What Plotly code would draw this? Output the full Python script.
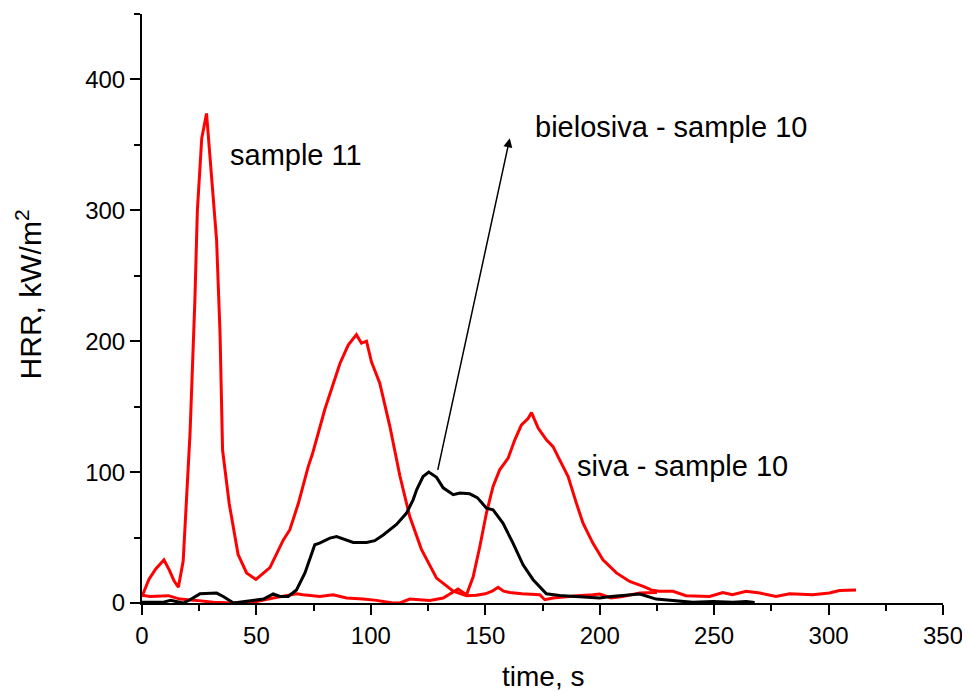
import plotly.graph_objects as go

# sample 11 (red)
s11_t = [0, 3, 6, 9.6, 12, 14, 15.9, 18, 21, 23.1, 24.2, 26.1, 28.2, 30, 32.6, 34.1, 35.2, 38.1, 42, 45.7,
         49.8, 55.9, 61.7, 64.6, 68.3, 72.6, 74.5, 79.9, 86.5, 90.1, 93.7, 95.9, 98.1, 100.3, 103.9, 108.3,
         112.7, 117, 122.1, 128.7, 136, 141.8, 146, 150, 153, 155.6, 158, 160.7, 166, 173.8, 176, 179.6,
         186, 190, 197, 200, 205, 210, 217.5, 222, 225]
s11_hrr = [5, 18, 26, 33, 25, 17, 12, 32, 130, 231, 300, 355, 374, 333, 277, 206, 117, 76, 37, 23,
           18, 27, 48, 56, 76, 104, 114, 148, 183, 197, 205, 198.5, 200, 184, 168, 135,
           97, 66, 41, 19, 9, 5.6, 6, 7, 9, 12, 9, 8, 7, 6.3, 2.5, 3.8,
           5, 5.5, 6.3, 6.9, 3.8, 5, 7.6, 8, 8]

# siva - sample 10 (red)
siva_t = [0, 3.5, 11.5, 16.6, 23.9, 31.1, 39.9, 50.1, 57.3, 67.6, 70.4, 77.7, 83.5, 89.4, 96.6, 102.5,
          109.7, 112.7, 117, 125.8, 131.6, 138.1, 141.8, 144.7, 147.6, 150.5, 153.4, 156.3, 160, 162.9,
          165.8, 168.7, 170.2, 173.1, 176.7, 179.6, 182.5, 186.2, 189.8, 192.7, 197, 201.4, 207.3, 213.1,
          219, 222.5, 226, 232, 237.7, 248, 253.8, 258, 264, 270, 277, 283, 293, 300.4, 304.8, 312]
siva_hrr = [6, 5, 5.6, 3, 2, 0.5, 0, 1.2, 3.8, 7, 6.3, 5, 6.3, 3.8, 3, 2,
            0, 0, 3, 2, 3.8, 10.7, 6.3, 20, 43, 68.7, 89, 101.8, 110.7, 124.7,
            136, 141, 145.5, 133.6, 124.7, 119.5, 109.4, 96.6, 76.3, 61, 45.8, 33, 23, 16.5,
            12.7, 10, 8.9, 9, 5.6, 5, 8, 6.3, 8.9, 7.6, 5, 7, 6.3, 7.6, 9.6, 10]

# bielosiva - sample 10 (black)
biel_t = [0, 9, 12.5, 18, 21, 25.3, 32.6, 35.5, 40, 44.4, 53.1, 57.3, 60.3, 63.9, 67.5, 71.2, 75.5, 77.6,
          82.1, 85, 87.9, 92.3, 98.1, 101.7, 105.4, 111.2, 115.6, 118.5, 120, 122.8, 125.3, 128.7, 131.6,
          136, 138.9, 143.2, 146.5, 150.5, 153.4, 157.7, 162.1, 166.5, 170.9, 176.7, 182.5, 191.3, 197,
          200, 205, 211.7, 217.5, 224.7, 232, 240.7, 249.5, 258.2, 264, 267.7]
biel_hrr = [0.5, 0.5, 2, 0, 2.5, 7, 7.6, 5, 0, 1.2, 3, 7, 5, 5, 10, 23, 44.5, 45.8,
            49.6, 50.8, 48.9, 46.3, 46.3, 47.6, 52, 60, 68.7, 79, 86.5, 96.6, 100, 96, 88,
            82.7, 84, 83.4, 80.5, 72.5, 71.2, 61, 45.8, 29.2, 17.8, 7, 5.7, 5, 4.6,
            3.8, 5, 6.3, 6.9, 3, 2, 0.5, 1.2, 0.5, 1.2, 0.3]

FONT = "Liberation Sans, Arial, sans-serif"

fig = go.Figure()
fig.add_trace(go.Scatter(x=s11_t, y=s11_hrr, mode="lines", line=dict(color="#ff0000", width=3), name="sample 11"))
fig.add_trace(go.Scatter(x=siva_t, y=siva_hrr, mode="lines", line=dict(color="#ff0000", width=3), name="siva - sample 10"))
fig.add_trace(go.Scatter(x=biel_t, y=biel_hrr, mode="lines", line=dict(color="#000000", width=3), name="bielosiva - sample 10"))

axis_common = dict(showline=True, linecolor="black", linewidth=2, ticks="outside", ticklen=10,
                   tickwidth=2, tickcolor="black", showgrid=False, zeroline=False,
                   tickfont=dict(family=FONT, size=24, color="black"))
fig.update_xaxes(range=[0, 350], dtick=50, tick0=0,
                 minor=dict(dtick=25, ticks="outside", ticklen=6, tickwidth=2, tickcolor="black"),
                 **axis_common)
fig.update_yaxes(range=[0, 450], dtick=100, tick0=0,
                 minor=dict(dtick=50, ticks="outside", ticklen=6, tickwidth=2, tickcolor="black"),
                 **axis_common)

anns = [
    dict(x=37.6, y=342, text="sample 11", xanchor="left", yanchor="middle", showarrow=False),
    dict(x=170.7, y=364, text="bielosiva - sample 10", xanchor="left", yanchor="middle", showarrow=False),
    dict(x=189.4, y=104.3, text="siva - sample 10", xanchor="left", yanchor="middle", showarrow=False),
]
for a in anns:
    a.update(xref="x", yref="y", font=dict(family=FONT, size=29, color="black"))
    fig.add_annotation(**a)

# arrow
fig.add_annotation(x=160.7, y=355, ax=129.1, ay=100.5, xref="x", yref="y", axref="x", ayref="y",
                   text="", showarrow=True, arrowhead=2, arrowsize=1.2, arrowwidth=1.5, arrowcolor="black")

# axis titles
fig.add_annotation(x=0.5, y=-0.125, xref="paper", yref="paper", text="time, s", showarrow=False,
                   xanchor="center", yanchor="middle", font=dict(family=FONT, size=28, color="black"))
fig.add_annotation(x=-0.141, y=0.524, xref="paper", yref="paper", text="HRR, kW/m<sup>2</sup>", showarrow=False,
                   textangle=-90, xanchor="center", yanchor="middle",
                   font=dict(family=FONT, size=30, color="black"))

# page body has an 8px default margin; compensate so the plot area lands where the reference has it
fig.update_layout(width=970, height=693, margin=dict(l=134, r=35, t=6, b=98),
                  plot_bgcolor="white", paper_bgcolor="white", showlegend=False)

fig.write_html("out.html")
